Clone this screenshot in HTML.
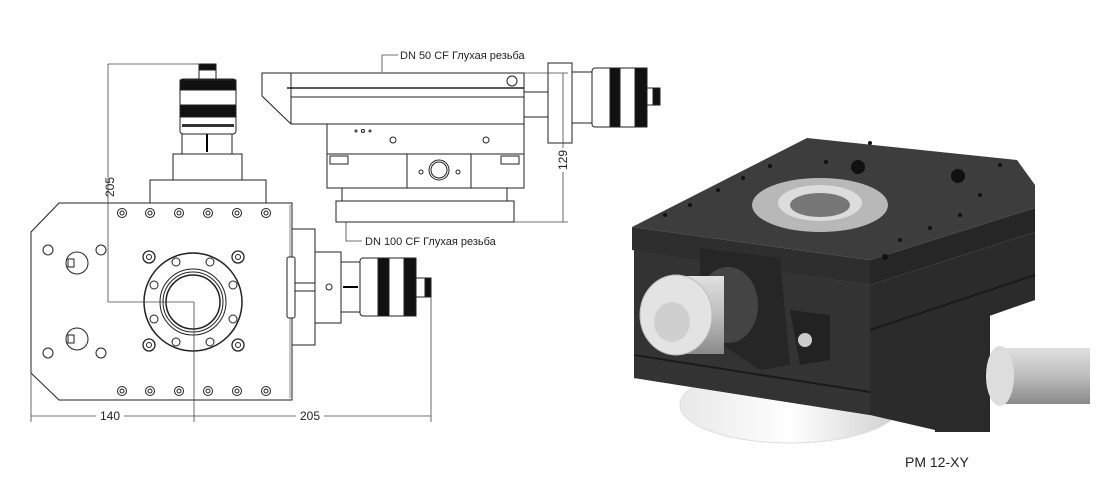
<!DOCTYPE html>
<html><head><meta charset="utf-8"><style>
html,body{margin:0;padding:0;background:#fff;}
svg{display:block;font-family:"Liberation Sans","Noto Sans CJK SC",sans-serif;}
</style></head><body>
<svg width="1110" height="504" viewBox="0 0 1110 504" xmlns="http://www.w3.org/2000/svg">
<defs>
<linearGradient id="knob" x1="0" y1="0" x2="0" y2="1"><stop offset="0" stop-color="#e0e0e0"/><stop offset="0.5" stop-color="#bdbdbd"/><stop offset="1" stop-color="#8a8a8a"/></linearGradient>
<linearGradient id="disk" x1="0" y1="0" x2="1" y2="0"><stop offset="0" stop-color="#e8e8e8"/><stop offset="0.5" stop-color="#ffffff"/><stop offset="1" stop-color="#cfcfcf"/></linearGradient>
</defs>
<g fill="none" stroke="#222" stroke-width="1">
<polygon points="59,203 292,203 292,400 59,400 31,373 31,232" fill="#fff"/>
<line x1="290" y1="205" x2="290" y2="398" stroke="#888"/>
<rect x="150" y="180" width="116" height="23" fill="#fff"/>
<rect x="173" y="154" width="69" height="26" fill="#fff"/>
<rect x="182" y="134" width="50" height="20" fill="#fff"/>
<line x1="207" y1="134" x2="207" y2="152" stroke="#000" stroke-width="2"/>
<rect x="180" y="79" width="56" height="55" rx="3" fill="#fff"/>
<rect x="180" y="80" width="56" height="10" fill="#111"/>
<rect x="180" y="105" width="56" height="12" fill="#111"/>
<rect x="182" y="124" width="52" height="3" fill="#333" stroke="none"/>
<rect x="199" y="64" width="17" height="15" fill="#fff"/>
<rect x="199" y="64" width="17" height="6" fill="#111"/>
<g fill="#fff">
<circle cx="122" cy="213" r="4.5"/><circle cx="150" cy="213" r="4.5"/><circle cx="179" cy="213" r="4.5"/><circle cx="208" cy="213" r="4.5"/><circle cx="237" cy="213" r="4.5"/><circle cx="266" cy="213" r="4.5"/>
<circle cx="122" cy="391" r="4.5"/><circle cx="150" cy="391" r="4.5"/><circle cx="179" cy="391" r="4.5"/><circle cx="208" cy="391" r="4.5"/><circle cx="237" cy="391" r="4.5"/><circle cx="266" cy="391" r="4.5"/>
</g>
<g>
<circle cx="122" cy="213" r="2"/><circle cx="150" cy="213" r="2"/><circle cx="179" cy="213" r="2"/><circle cx="208" cy="213" r="2"/><circle cx="237" cy="213" r="2"/><circle cx="266" cy="213" r="2"/>
<circle cx="122" cy="391" r="2"/><circle cx="150" cy="391" r="2"/><circle cx="179" cy="391" r="2"/><circle cx="208" cy="391" r="2"/><circle cx="237" cy="391" r="2"/><circle cx="266" cy="391" r="2"/>
</g>
<circle cx="48" cy="250" r="5"/><circle cx="101" cy="250" r="5"/><circle cx="48" cy="353" r="5"/><circle cx="101" cy="353" r="5"/>
<circle cx="77" cy="263" r="11"/><circle cx="77" cy="339" r="11"/>
<rect x="68" y="259" width="6" height="8"/><rect x="68" y="335" width="6" height="8"/>
<circle cx="193" cy="302" r="49" stroke-width="1.5"/>
<circle cx="193" cy="302" r="33"/><circle cx="193" cy="302" r="30"/><circle cx="193" cy="302" r="27" stroke-width="1.5"/>
<g>
<circle cx="176" cy="262" r="4"/><circle cx="210" cy="262" r="4"/><circle cx="233" cy="285" r="4"/><circle cx="233" cy="319" r="4"/>
<circle cx="210" cy="342" r="4"/><circle cx="176" cy="342" r="4"/><circle cx="154" cy="319" r="4"/><circle cx="154" cy="285" r="4"/>
</g>
<g stroke-width="1.3"><circle cx="149" cy="257" r="6"/><circle cx="238" cy="257" r="6"/><circle cx="149" cy="345" r="6"/><circle cx="238" cy="345" r="6"/></g>
<g><circle cx="149" cy="257" r="2.5"/><circle cx="238" cy="257" r="2.5"/><circle cx="149" cy="345" r="2.5"/><circle cx="238" cy="345" r="2.5"/></g>
<rect x="292" y="229" width="23" height="116" fill="#fff"/>
<rect x="287" y="257" width="8" height="61" rx="2" fill="#fff"/>
<line x1="295" y1="283" x2="315" y2="283"/><line x1="295" y1="291" x2="315" y2="291"/>
<rect x="315" y="252" width="26" height="71" fill="#fff"/>
<circle cx="329" cy="287" r="3"/>
<rect x="341" y="262" width="19" height="50" fill="#fff"/>
<line x1="343" y1="287" x2="358" y2="287" stroke="#000" stroke-width="2"/>
<rect x="360" y="258" width="56" height="58" rx="3" fill="#fff"/>
<rect x="378" y="258" width="11" height="58" fill="#111"/>
<rect x="404" y="258" width="12" height="58" fill="#111"/>
<rect x="416" y="278" width="15" height="19" fill="#fff"/>
<rect x="425" y="278" width="6" height="19" fill="#111"/>
</g>
<g stroke="#444" stroke-width="0.8" fill="none">
<line x1="108" y1="64" x2="200" y2="64"/>
<line x1="108" y1="64" x2="108" y2="302"/>
<line x1="108" y1="302" x2="194" y2="302"/>
<line x1="194" y1="302" x2="194" y2="422"/>
<line x1="31" y1="373" x2="31" y2="422"/>
<line x1="431" y1="297" x2="431" y2="422"/>
<line x1="31" y1="416" x2="96" y2="416"/><line x1="124" y1="416" x2="194" y2="416"/>
<line x1="194" y1="416" x2="296" y2="416"/><line x1="324" y1="416" x2="431" y2="416"/>
</g>
<g font-size="12" fill="#222">
<text x="114" y="187" transform="rotate(-90 114 187)" text-anchor="middle">205</text>
<text x="110" y="420" text-anchor="middle">140</text>
<text x="310" y="420" text-anchor="middle">205</text>
</g>
<g fill="#fff" stroke="#222" stroke-width="1">
<polygon points="262,73 524,73 524,124 291,124 262,96"/>
<line x1="291" y1="73" x2="291" y2="124"/>
<line x1="287" y1="88" x2="524" y2="88" stroke-width="1.5"/><line x1="291" y1="97" x2="524" y2="97"/>
<circle cx="512" cy="81" r="5"/>
<rect x="327" y="124" width="197" height="30"/>
<circle cx="356" cy="131" r="1"/><circle cx="363" cy="131" r="1.5"/><circle cx="370" cy="131" r="1"/>
<circle cx="393" cy="140" r="3"/><circle cx="486" cy="140" r="3"/>
<rect x="327" y="154" width="197" height="34"/>
<line x1="407" y1="154" x2="407" y2="188"/><line x1="471" y1="154" x2="471" y2="188"/>
<circle cx="439" cy="170" r="10"/><circle cx="439" cy="170" r="8"/>
<circle cx="421" cy="172" r="2"/><circle cx="458" cy="172" r="2"/>
<rect x="330" y="156" width="18" height="8"/><rect x="501" y="156" width="18" height="8"/>
<rect x="342" y="188" width="165" height="13"/>
<rect x="336" y="201" width="178" height="21"/>
<rect x="524" y="92" width="24" height="25"/>
<rect x="548" y="63" width="24" height="80"/>
<rect x="572" y="72" width="20" height="51"/>
<rect x="592" y="68" width="55" height="59" rx="3"/>
<rect x="610" y="68" width="10" height="59" fill="#111"/>
<rect x="635" y="68" width="12" height="59" fill="#111"/>
<rect x="647" y="88" width="13" height="17"/>
<rect x="653" y="88" width="7" height="17" fill="#111"/>
</g>
<g stroke="#444" stroke-width="0.8" fill="none">
<line x1="524" y1="73" x2="568" y2="73"/><line x1="514" y1="222" x2="568" y2="222"/>
<line x1="563" y1="73" x2="563" y2="148"/><line x1="563" y1="172" x2="563" y2="222"/>
<polyline points="382,72 382,55 398,55"/>
<polyline points="346,222 346,241 362,241"/>
</g>
<g font-size="11" fill="#222">
<text x="567" y="160" transform="rotate(-90 567 160)" text-anchor="middle" font-size="12">129</text>
<text x="400" y="59">DN 50 CF Глухая резьба</text>
<text x="365" y="245">DN 100 CF Глухая резьба</text>
</g>
<!-- PHOTO -->
<ellipse cx="790" cy="405" rx="110" ry="38" fill="url(#disk)" stroke="#ddd"/>
<polygon points="634,250 870,285 1035,232 1035,300 935,335 935,430 870,415 634,378" fill="#2b2b2b"/>
<polygon points="634,250 870,285 870,415 634,378" fill="#333"/>
<line x1="634" y1="355" x2="870" y2="392" stroke="#1a1a1a" stroke-width="2"/>
<line x1="870" y1="330" x2="1035" y2="275" stroke="#1a1a1a" stroke-width="2"/>
<polygon points="632,227 870,260 870,285 632,250" fill="#2e2e2e"/>
<polygon points="870,260 1035,208 1035,232 870,285" fill="#262626"/>
<polygon points="632,227 807,138 1017,160 1035,185 1035,208 870,260" fill="#3d3d3d"/>
<ellipse cx="820" cy="205" rx="68" ry="27" fill="#b8b8b8"/>
<ellipse cx="820" cy="203" rx="42" ry="18" fill="#dcdcdc"/>
<ellipse cx="820" cy="205" rx="30" ry="12" fill="#777"/>
<circle cx="858" cy="167" r="7" fill="#111"/><circle cx="958" cy="176" r="7" fill="#111"/>
<g fill="#111"><circle cx="870" cy="143" r="2"/><circle cx="826" cy="162" r="2"/><circle cx="770" cy="166" r="2"/><circle cx="743" cy="178" r="2"/><circle cx="718" cy="190" r="2"/><circle cx="690" cy="205" r="2"/><circle cx="665" cy="215" r="2"/><circle cx="980" cy="195" r="2"/><circle cx="960" cy="215" r="2"/><circle cx="930" cy="228" r="2"/><circle cx="900" cy="240" r="2"/><circle cx="885" cy="257" r="3"/><circle cx="1000" cy="165" r="2"/></g>
<polygon points="700,248 780,258 790,365 760,370 700,330" fill="#262626"/>
<polygon points="790,310 830,315 830,360 800,365" fill="#222"/>
<circle cx="805" cy="340" r="7" fill="#ccc"/>
<polygon points="935,325 990,305 990,432 935,432" fill="#2a2a2a"/>
<ellipse cx="728" cy="305" rx="30" ry="38" fill="#444"/>
<rect x="676" y="276" width="48" height="78" fill="url(#knob)"/>
<ellipse cx="676" cy="315" rx="36" ry="40" fill="#e3e3e3" stroke="#bbb"/>
<ellipse cx="672" cy="322" rx="18" ry="20" fill="#cfcfcf"/>
<rect x="1000" y="348" width="90" height="56" fill="url(#knob)"/>
<ellipse cx="1000" cy="376" rx="14" ry="30" fill="#ddd"/>
<text x="905" y="467" font-size="14" fill="#222">PM 12-XY</text>
</svg>
</body></html>
